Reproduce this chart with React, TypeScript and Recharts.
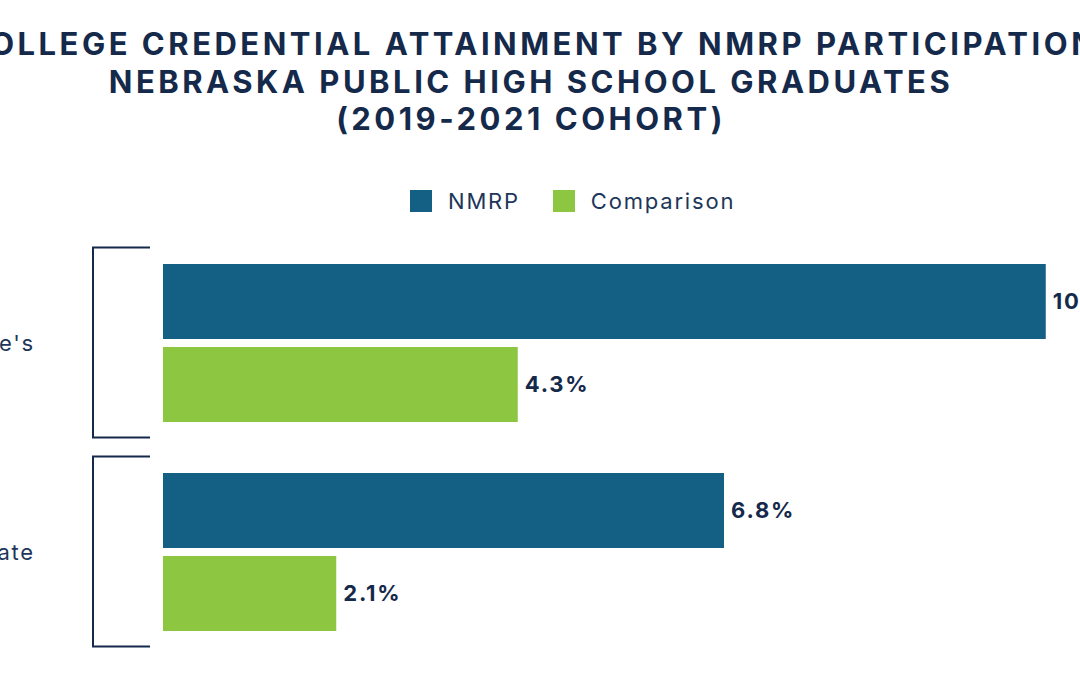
import { Bar, BarChart, LabelList, XAxis, YAxis } from "recharts";

const categories = ["Associate's", "Certificate"];
const nmrpValues = [10.7, 6.8];
const comparisonValues = [4.3, 2.1];
const seriesNames = ["NMRP", "Comparison"];
const seriesColors = ["#136084", "#8dc641"];
const titleLines = [
  "COLLEGE CREDENTIAL ATTAINMENT BY NMRP PARTICIPATION",
  "NEBRASKA PUBLIC HIGH SCHOOL GRADUATES",
  "(2019-2021 COHORT)",
];
const xDomain = [0, 12];

const data = categories.map((category, i) => ({
  category,
  nmrp: nmrpValues[i],
  comparison: comparisonValues[i],
}));

const NAVY = "#15294b";
const TEXT = "#1d3659";
const FONT = "Inter, 'DejaVu Sans', sans-serif";

function BracketTick({ x, y, payload }: any) {
  return (
    <g>
      <path
        d={`M ${x - 13} ${y - 95} H ${x - 70} V ${y + 95} H ${x - 13}`}
        fill="none"
        stroke={NAVY}
        strokeWidth={2}
      />
      <text
        x={x - 128}
        y={y}
        textAnchor="end"
        dominantBaseline="central"
        fontSize={22}
        letterSpacing={1.8}
        fill={TEXT}
        fontFamily={FONT}
      >
        {payload.value}
      </text>
    </g>
  );
}

const pct = (v: any) => `${v}%`;

export default function App() {
  return (
    <div style={{ position: "fixed", left: 0, top: 0, width: 1080, height: 675, overflow: "hidden", background: "#fff", fontFamily: FONT }}>
      <div
        style={{
          position: "absolute",
          top: 25,
          left: -169,
          width: 1400,
          textAlign: "center",
          fontSize: 31,
          letterSpacing: 3.5,
          lineHeight: "37.5px",
          fontWeight: 700,
          color: NAVY,
        }}
      >
        {titleLines.map((line) => (
          <div key={line}>{line}</div>
        ))}
      </div>
      <div style={{ position: "absolute", top: 188, left: 410, display: "flex", alignItems: "center", fontSize: 22, letterSpacing: 1.8, color: TEXT }}>
        {seriesNames.map((name, i) => (
          <div key={name} style={{ display: "flex", alignItems: "center", marginRight: 33 }}>
            <span style={{ width: 22, height: 22, background: seriesColors[i], display: "inline-block", marginRight: 16 }} />
            <span>{name}</span>
          </div>
        ))}
      </div>
      <div style={{ position: "absolute", left: -60, top: 0 }}>
        <BarChart
          width={1250}
          height={675}
          data={data}
          layout="vertical"
          margin={{ top: 238, right: 37, bottom: 19, left: 0 }}
          barSize={75}
          barGap={8}
        >
          <XAxis type="number" domain={xDomain} hide />
          <YAxis
            type="category"
            dataKey="category"
            width={223}
            axisLine={false}
            tickLine={false}
            tickSize={0}
            tickMargin={0}
            tick={<BracketTick />}
          />
          <Bar dataKey="nmrp" name={seriesNames[0]} fill={seriesColors[0]} isAnimationActive={false}>
            <LabelList dataKey="nmrp" position="right" offset={7} fill={NAVY} fontSize={22} fontWeight={700} letterSpacing={1.8} fontFamily={FONT} formatter={pct} />
          </Bar>
          <Bar dataKey="comparison" name={seriesNames[1]} fill={seriesColors[1]} isAnimationActive={false}>
            <LabelList dataKey="comparison" position="right" offset={7} fill={NAVY} fontSize={22} fontWeight={700} letterSpacing={1.8} fontFamily={FONT} formatter={pct} />
          </Bar>
        </BarChart>
      </div>
    </div>
  );
}
